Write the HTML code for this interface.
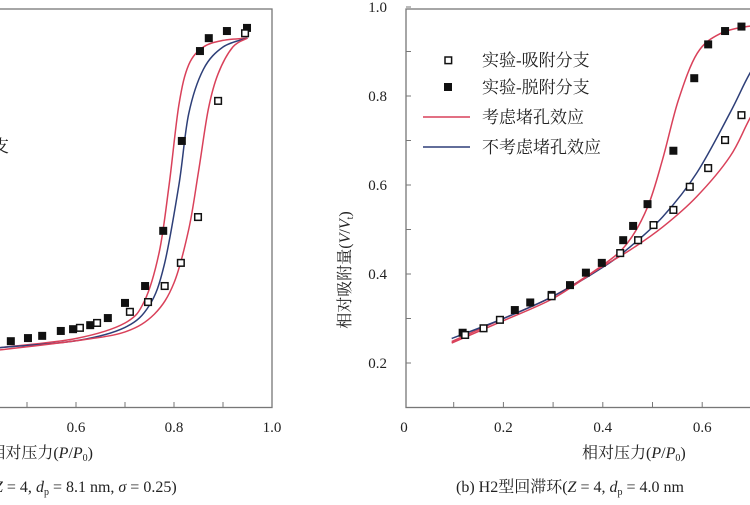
<!DOCTYPE html>
<html><head><meta charset="utf-8"><style>
body{margin:0;background:#fff;}
svg text{font-family:"Liberation Serif","Noto Serif CJK SC",serif;fill:#222;}
</style></head><body>
<svg id="chart" width="750" height="500" viewBox="0 0 750 500" xmlns="http://www.w3.org/2000/svg">
<g id="L"></g>
<g id="R"></g>
</svg>
<script>
// Panel A data
const aDesX=[0.467,0.502,0.531,0.569,0.594,0.629,0.665,0.70,0.741,0.778,0.816,0.853,0.871,0.908,0.949];
const aDesY=[0.249,0.256,0.261,0.272,0.276,0.285,0.301,0.335,0.373,0.497,0.699,0.901,0.930,0.946,0.953];
const aAdsX=[0.608,0.643,0.710,0.747,0.781,0.814,0.849,0.890,0.945];
const aAdsY=[0.279,0.290,0.315,0.337,0.373,0.425,0.528,0.789,0.941];
const aRedDesX=[0.40,0.45,0.6,0.7,0.74,0.77,0.79,0.81,0.83,0.86,0.9,0.95];
const aRedDesY=[0.228,0.235,0.255,0.29,0.34,0.45,0.6,0.78,0.87,0.91,0.925,0.93];
const aBlueX=[0.40,0.45,0.6,0.7,0.75,0.78,0.81,0.83,0.86,0.9,0.95];
const aBlueY=[0.228,0.235,0.25,0.28,0.33,0.42,0.6,0.76,0.86,0.91,0.93];
const aRedAdsX=[0.40,0.45,0.6,0.7,0.76,0.8,0.83,0.85,0.87,0.89,0.92,0.95];
const aRedAdsY=[0.225,0.23,0.25,0.27,0.31,0.38,0.5,0.63,0.77,0.85,0.91,0.93];
// Panel B data
const bDesX=[0.118,0.223,0.254,0.297,0.334,0.366,0.398,0.441,0.461,0.490,0.542,0.584,0.612,0.646,0.679];
const bDesY=[0.268,0.319,0.336,0.353,0.375,0.403,0.425,0.476,0.508,0.557,0.677,0.840,0.916,0.946,0.956];
const bAdsX=[0.123,0.16,0.193,0.297,0.435,0.471,0.502,0.542,0.575,0.612,0.646,0.679];
const bAdsY=[0.263,0.278,0.297,0.35,0.447,0.476,0.51,0.544,0.596,0.638,0.701,0.757];
const bRedDesX=[0.096,0.2,0.3,0.4,0.45,0.49,0.52,0.552,0.59,0.636,0.696,0.75];
const bRedDesY=[0.248,0.30,0.35,0.42,0.47,0.55,0.656,0.79,0.896,0.94,0.957,0.96];
const bBlueX=[0.096,0.2,0.3,0.4,0.455,0.521,0.589,0.656,0.696,0.75];
const bBlueY=[0.255,0.30,0.35,0.415,0.461,0.529,0.627,0.762,0.851,0.95];
const bRedAdsX=[0.096,0.2,0.3,0.388,0.455,0.521,0.589,0.656,0.696,0.75];
const bRedAdsY=[0.245,0.295,0.345,0.409,0.454,0.506,0.574,0.664,0.75,0.86];
const xTicks=["0","0.2","0.4","0.6","0.8","1.0"];
const yTicks=["0.2","0.4","0.6","0.8","1.0"];
const legendLabels=["实验-吸附分支","实验-脱附分支","考虑堵孔效应","不考虑堵孔效应"];

const NS="http://www.w3.org/2000/svg";
function mk(p,t,a){const e=document.createElementNS(NS,t);for(const k in a)e.setAttribute(k,a[k]);p.appendChild(e);return e;}
const yS=v=>407.5-(v-0.1)*445;
const axA=v=>-218+v*490;
const axB=v=>404+v*497;
const RED="#d9415a",BLUE="#2e3f78";

function smooth(P){
  let d='M'+P[0][0].toFixed(1)+','+P[0][1].toFixed(1);
  for(let i=0;i<P.length-1;i++){
    const p0=P[i-1]||P[i],p1=P[i],p2=P[i+1],p3=P[i+2]||P[i+1];
    const c1=[p1[0]+(p2[0]-p0[0])/6,p1[1]+(p2[1]-p0[1])/6];
    const c2=[p2[0]-(p3[0]-p1[0])/6,p2[1]-(p3[1]-p1[1])/6];
    d+='C'+c1.map(v=>v.toFixed(1)).join(',')+' '+c2.map(v=>v.toFixed(1)).join(',')+' '+p2[0].toFixed(1)+','+p2[1].toFixed(1);
  }
  return d;
}

function panel(g,xs,fr,des,ads,curves){
  const f=mk(g,'rect',{x:fr[0],y:9,width:fr[1]-fr[0],height:398.5,fill:'none',stroke:'#777','stroke-width':1.3});
  
  for(let i=0;i<=10;i++){const v=i/10,x=xs(v);if(x<fr[0]||x>fr[1])continue;
    const t=mk(g,'line',{x1:x,x2:x,y1:407.5,y2:402,stroke:'#777'});
    }
  xTicks.forEach(s=>{const x=xs(parseFloat(s));if(x<-5||x>760)return;
    const t=mk(g,'text',{x:x,y:432,'font-size':15,'text-anchor':'middle'});t.textContent=s;
    });
  curves.forEach(c=>{const pts=c[0].map((v,i)=>[xs(v),yS(c[1][i])]);
    const p=mk(g,'path',{d:smooth(pts),fill:'none',stroke:c[2],'stroke-width':1.5});
    });
  des[0].forEach((v,i)=>{const r=mk(g,'rect',{x:xs(v)-4,y:yS(des[1][i])-4,width:8,height:8,fill:'#111'});
    });
  ads[0].forEach((v,i)=>{const r=mk(g,'rect',{x:xs(v)-3.3,y:yS(ads[1][i])-3.3,width:6.6,height:6.6,fill:'#fff',stroke:'#111','stroke-width':1.5});
    });
}
const L=document.getElementById('L'),R=document.getElementById('R');
panel(L,axA,[-20,272],[aDesX,aDesY],[aAdsX,aAdsY],[[aRedDesX,aRedDesY,RED,'red-desorption-curve'],[aBlueX,aBlueY,BLUE,'blue-curve'],[aRedAdsX,aRedAdsY,RED,'red-adsorption-curve']]);
panel(R,axB,[406,770],[bDesX,bDesY],[bAdsX,bAdsY],[[bRedDesX,bRedDesY,RED,'red-desorption-curve'],[bBlueX,bBlueY,BLUE,'blue-curve'],[bRedAdsX,bRedAdsY,RED,'red-adsorption-curve']]);
for(let i=1;i<=10;i++){const y=yS(i/10);
  const t=mk(R,'line',{x1:406,x2:411,y1:y,y2:y,stroke:'#777'});
  }
yTicks.forEach(s=>{const t=mk(R,'text',{x:387,y:yS(parseFloat(s))+5,'font-size':15,'text-anchor':'end'});t.textContent=s;
  });
// legend
const ly=[60,87,117,147];
legendLabels.forEach((s,i)=>{
  if(i==0){const m=mk(R,'rect',{x:445,y:ly[i]-3,width:6.6,height:6.6,fill:'#fff',stroke:'#111','stroke-width':1.5});}
  if(i==1){const m=mk(R,'rect',{x:444,y:ly[i]-4,width:8,height:8,fill:'#111'});}
  if(i>=2){const m=mk(R,'line',{x1:423,x2:470,y1:ly[i],y2:ly[i],stroke:i==2?RED:BLUE,'stroke-width':1.5});}
  const t=mk(R,'text',{x:482,y:ly[i]+6,'font-size':17});t.textContent=s;
  
});
</script>
<svg style="position:absolute;left:0;top:0" width="750" height="500">
<text x="93" y="458" font-size="16" text-anchor="end">相对压力(<tspan font-style="italic">P</tspan>/<tspan font-style="italic">P</tspan><tspan font-size="10" dy="3">0</tspan><tspan dy="-3">)</tspan></text>
<text x="-6" y="492" font-size="16"><tspan font-style="italic">Z</tspan> = 4, <tspan font-style="italic">d</tspan><tspan font-size="10" dy="3">p</tspan><tspan dy="-3"> = 8.1 nm, </tspan><tspan font-style="italic">σ</tspan> = 0.25)</text>
<text x="-8" y="152" font-size="17">支</text>
<text x="582" y="458" font-size="16">相对压力(<tspan font-style="italic">P</tspan>/<tspan font-style="italic">P</tspan><tspan font-size="10" dy="3">0</tspan><tspan dy="-3">)</tspan></text>
<text x="456" y="492" font-size="16">(b) H2型回滞环(<tspan font-style="italic">Z</tspan> = 4, <tspan font-style="italic">d</tspan><tspan font-size="10" dy="3">p</tspan><tspan dy="-3"> = 4.0 nm</tspan></text>
<text transform="translate(350,270) rotate(-90)" font-size="16" text-anchor="middle">相对吸附量(<tspan font-style="italic">V</tspan>/<tspan font-style="italic">V</tspan><tspan font-size="10" dy="3">t</tspan><tspan dy="-3">)</tspan></text>
</svg>
</body></html>
